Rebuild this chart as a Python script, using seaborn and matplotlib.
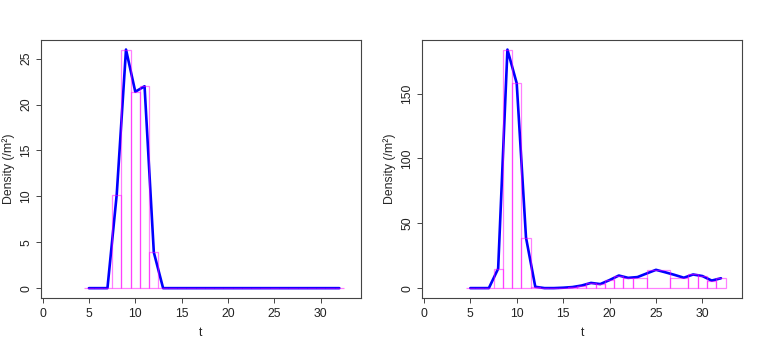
import matplotlib
matplotlib.use("Agg")
import matplotlib.pyplot as plt
import seaborn as sns
import numpy as np

# time points of the blue line
t = list(range(5, 33))

# left panel: one unit bar per time point, line goes through bar tops
left_y = [0, 0, 0, 10.2, 26.0, 21.4, 22.0, 3.9, 0, 0, 0, 0, 0, 0,
          0, 0, 0, 0, 0, 0, 0, 0, 0, 0, 0, 0, 0, 0]
left_edges = [4.5 + i for i in range(29)]

# right panel: line values and (uneven) bar bins
right_y = [0, 0, 0, 15, 184, 158, 39, 1, 0, 0, 0.3, 0.8, 2, 4,
           3.1, 6.2, 9.7, 7.9, 8.5, 11.3, 14.1, 12.2, 10.2, 8, 10.5, 9.3, 5.8, 7.6]
right_edges = [4.5, 5.5, 6.5, 7.5, 8.5, 9.5, 10.5, 11.5, 12.5, 13.5, 14.5, 15.5,
               16.5, 17.5, 18.5, 19.5, 20.5, 21.5, 22.5, 24, 26.5, 28.5, 29.5,
               30.5, 31.5, 32.5]
right_bars = [0, 0, 0, 15, 184, 158, 39, 1, 0, 0, 0.3, 0.8, 1.5, 3.8, 3.3,
              6.2, 9.7, 8, 8, 14, 8, 10.7, 9.6, 5.8, 7.5]

x_ticks = [0, 5, 10, 15, 20, 25, 30]

sns.set_style("ticks")
plt.rcParams["font.family"] = ["Liberation Sans", "DejaVu Sans"]
plt.rcParams["font.size"] = 8.8

fig = plt.figure(figsize=(7.63, 3.49), dpi=100)
ax1 = fig.add_axes([0.0533, 0.147, 0.4194, 0.7384])
ax2 = fig.add_axes([0.5531, 0.147, 0.4198, 0.7384])


def panel(ax, line_y, edges, bars, ylim, yticks):
    centers = [(a + b) / 2 for a, b in zip(edges[:-1], edges[1:])]
    sns.lineplot(x=t, y=line_y, color="blue", lw=1.9, ax=ax, zorder=2)
    sns.histplot(x=centers, weights=bars, bins=edges, fill=False,
                 color="magenta", alpha=0.5, linewidth=0.9, ax=ax, zorder=3)
    ax.set_xlim(-0.2, 34.3)
    ax.set_ylim(*ylim)
    ax.set_xticks(x_ticks)
    ax.set_yticks(yticks)
    ax.set_xlabel("t", labelpad=5)
    ax.set_ylabel("Density (/m²)", labelpad=4)
    for s in ax.spines.values():
        s.set_visible(True)
        s.set_color("#444444")
        s.set_linewidth(0.8)
    ax.tick_params(length=3.6, width=0.7, color="#444444", labelcolor="#222222")
    ax.tick_params(axis="x", pad=3.5)
    ax.tick_params(axis="y", pad=2.5, labelrotation=90)
    for lab in ax.get_yticklabels():
        lab.set_va("center")


panel(ax1, left_y, left_edges, left_y, (-1.04, 27.04), [0, 5, 10, 15, 20, 25])
panel(ax2, right_y, right_edges, right_bars, (-7.4, 191.4), [0, 50, 100, 150])

fig.savefig("out.png", dpi=100)
